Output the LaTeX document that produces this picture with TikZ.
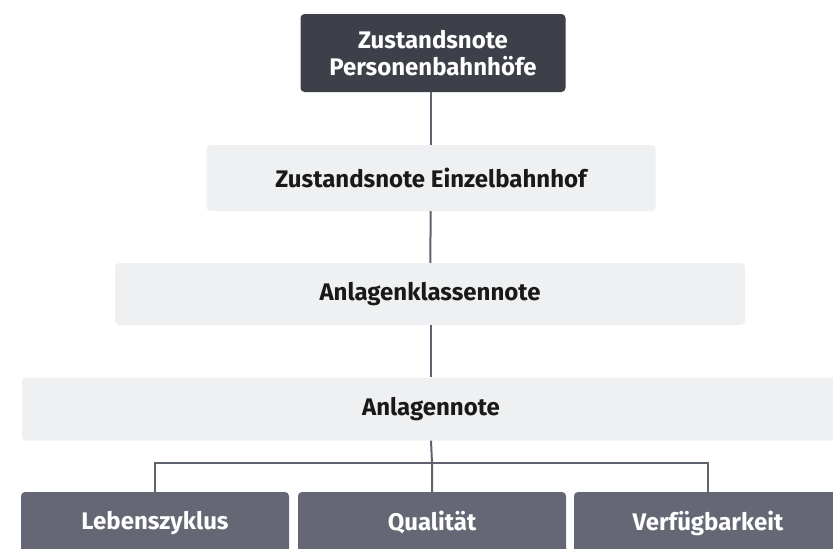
\documentclass[tikz,border=0pt]{standalone}
\usepackage{fontspec}
\setmainfont{Fira Sans}
\usepackage{tikz}

\definecolor{darknote}{HTML}{3D4049}
\definecolor{lightnote}{HTML}{EEF0F1}
\definecolor{subnote}{HTML}{656874}
\definecolor{linegray}{HTML}{5F6370}

\begin{document}
\begin{tikzpicture}[x=1pt, y=1pt]

		% Define styles
		\tikzstyle{note} = [
		rectangle, rounded corners=4pt, inner sep=0pt,
		text centered, align=center, font=\fontsize{24}{27}\selectfont\bfseries]
		\tikzstyle{topnote} = [note, fill=darknote, text=white,
		minimum width=265pt, minimum height=78pt]
		\tikzstyle{midnote} = [note, fill=lightnote, text=black!90]
		\tikzstyle{leafnote} = [note, fill=subnote, text=white,
		minimum width=268pt, minimum height=62pt]
		\tikzstyle{link} = [draw=linegray, line width=2pt]

		\useasboundingbox (0,0) rectangle (833,-549);
		\clip (0,0) rectangle (833,-549);

		% Nodes
		\node (station) [topnote] at (433,-53) {
			Zustandsnote \\
			Personenbahnhöfe
		};

		\node (single) [midnote, minimum width=449pt, minimum height=66pt]
			at (431,-178) {Zustandsnote Einzelbahnhof};

		\node (class) [midnote, minimum width=630pt, minimum height=62pt]
			at (430,-294) {Anlagenklassennote};

		\node (asset) [midnote, minimum width=818pt, minimum height=63pt]
			at (431,-409) {Anlagennote};

		\node (life) [leafnote] at (155,-523) {Lebenszyklus};

		\node (quality) [leafnote] at (432,-523) {Qualität};

		\node (avail) [leafnote] at (708,-523) {Verfügbarkeit};

		\coordinate (fork) at (431,-463);

		% Connectors
		\draw [link] (station.south -| single.north) -- (single.north);
		\draw [link] (single) -- (class);
		\draw [link] (class.south -| asset.north) -- (asset.north);
		\draw [link] (asset.south -| fork) -- (fork -| quality.north) -- (quality.north);
		\draw [link] (life.north) |- (fork) -| (avail.north);
	\end{tikzpicture}
\end{document}
